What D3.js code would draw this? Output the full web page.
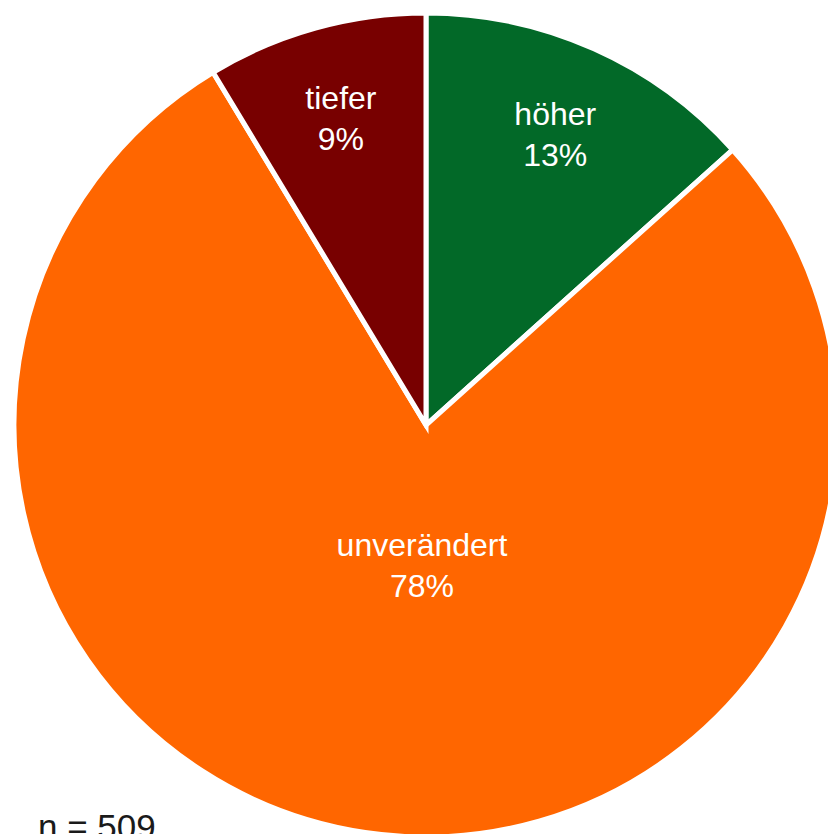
<!DOCTYPE html>
<html>
<head>
<meta charset="utf-8">
<script src="https://cdn.jsdelivr.net/npm/d3@7"></script>
<style>
  html, body { margin: 0; padding: 0; background: #fff; overflow: hidden; }
  svg { display: block; }
  text { font-family: "Liberation Sans", "Helvetica Neue", Helvetica, Arial, sans-serif; }
</style>
</head>
<body>
<svg id="chart" width="828" height="834"></svg>
<script>
// Data (counts, n = 509)
const categories = ["höher", "unverändert", "tiefer"];
const counts = [68, 397, 44];
const percentLabels = ["13%", "78%", "9%"];
const colors = ["#026928", "#FF6600", "#780000"];
const sampleLabel = "n = 509";

const width = 828, height = 834;
const cx = 426, cy = 425, radius = 412;

const svg = d3.select("#chart");
const g = svg.append("g").attr("transform", `translate(${cx},${cy})`);

const data = categories.map((c, i) => ({ cat: c, value: counts[i], pct: percentLabels[i], color: colors[i] }));

const pie = d3.pie().sort(null).value(d => d.value);
const arcs = pie(data);

const arc = d3.arc().innerRadius(0).outerRadius(radius);

g.selectAll("path.slice")
  .data(arcs)
  .join("path")
  .attr("class", "slice")
  .attr("d", arc)
  .attr("fill", d => d.data.color)
  .attr("stroke", "#fff")
  .attr("stroke-width", 5)
  .attr("stroke-linejoin", "miter");

// Label placement
function labelPos(d) {
  const span = d.endAngle - d.startAngle;
  if (span > Math.PI) {
    // large slice: label below the centre
    return [-4, radius * 0.343];
  }
  const mid = (d.startAngle + d.endAngle) / 2;
  const lr = radius * 0.77;
  return [Math.sin(mid) * lr, -Math.cos(mid) * lr];
}

const labels = g.selectAll("g.label")
  .data(arcs)
  .join("g")
  .attr("class", "label")
  .attr("transform", d => { const p = labelPos(d); return `translate(${p[0]},${p[1]})`; });

labels.append("text")
  .attr("text-anchor", "middle")
  .attr("y", -10)
  .attr("fill", "#fff")
  .attr("font-size", 32)
  .text(d => d.data.cat);

labels.append("text")
  .attr("text-anchor", "middle")
  .attr("y", 31)
  .attr("fill", "#fff")
  .attr("font-size", 32)
  .text(d => d.data.pct);

svg.append("text")
  .attr("x", 38)
  .attr("y", 839)
  .attr("fill", "#1a1a1a")
  .attr("font-size", 35)
  .text(sampleLabel);
</script>
</body>
</html>
